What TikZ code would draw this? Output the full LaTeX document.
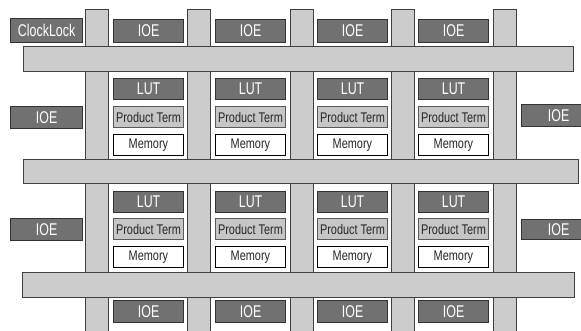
\documentclass[tikz,border=0pt]{standalone}
\usepackage{fontspec}
\setmainfont{Liberation Sans}
\newfontfamily\narA[FakeStretch=0.73]{Liberation Sans}
\newfontfamily\narB[FakeStretch=0.78]{Liberation Sans}
\definecolor{dkgrey}{HTML}{717171}
\definecolor{bargrey}{HTML}{CCCCCC}
\definecolor{ptgrey}{HTML}{C6C6C6}
\begin{document}
\begin{tikzpicture}[x=1pt,y=-1pt,
  base/.style={inner sep=0pt, anchor=north west, minimum width=70pt, minimum height=21pt},
  darkbox/.style={base, draw=black!80, line width=1.2pt, fill=dkgrey, text=white, font=\narA\fontsize{17}{18}\selectfont},
  ptbox/.style={base, draw=black!65, line width=1pt, fill=ptgrey, text=black!85, font=\narB\fontsize{14}{15}\selectfont},
  membox/.style={base, draw=black, line width=0.8pt, fill=white, text=black!85, font=\narB\fontsize{14}{15}\selectfont},
  barv/.style={draw=black!75, line width=0.9pt, fill=bargrey}]
\useasboundingbox (0,0) rectangle (581,330);
\clip (0,0) rectangle (581,330);
% vertical routing bars
\foreach \x/\n in {85/1,187/2,290/3,391/4,493/5}
  \draw[barv] (\x,9) rectangle ++(23,330);
% horizontal routing bars
\draw[barv] (23,46) rectangle (573,71);
\draw[barv] (23,159) rectangle (578,183);
\draw[barv] (22,272) rectangle (574,297);
% clocklock
\node[darkbox, minimum width=72pt, minimum height=24pt, font=\narA\fontsize{17}{18}\selectfont] (clk) at (10,18) {ClockLock};
% columns
\foreach \c/\x in {1/113,2/215,3/317,4/418}{
  \node[darkbox, minimum height=23pt] (ioeT\c) at (\x,19) {IOE};
  \node[darkbox] (lutA\c) at (\x,78) {LUT};
  \node[ptbox] (ptA\c) at (\x,106) {Product Term};
  \node[membox] (memA\c) at (\x,134) {Memory};
  \node[darkbox] (lutB\c) at (\x,191) {LUT};
  \node[ptbox] (ptB\c) at (\x,218) {Product Term};
  \node[membox] (memB\c) at (\x,246) {Memory};
  \node[darkbox, minimum height=22pt] (ioeB\c) at (\x,300) {IOE};
}
% side IOEs
\node[darkbox, minimum width=72pt, minimum height=22pt] (ioeL1) at (10,106) {IOE};
\node[darkbox, minimum width=72pt, minimum height=22pt] (ioeL2) at (10,218) {IOE};
\node[darkbox, minimum width=74pt, minimum height=22pt] (ioeR1) at (521,104) {IOE};
\node[darkbox, minimum width=74pt, minimum height=20pt] (ioeR2) at (521,219) {IOE};
\end{tikzpicture}
\end{document}
